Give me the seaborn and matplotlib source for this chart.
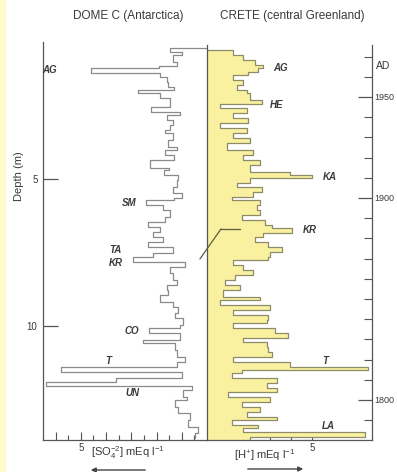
import numpy as np
import pandas as pd
import matplotlib
matplotlib.use("Agg")
import matplotlib.pyplot as plt
import seaborn as sns
from matplotlib.patches import ConnectionPatch, Rectangle

# ---------------- data ----------------
# DOME C (Antarctica): top depth (m) of each sample and sulphate value (mEq/l)
domec_depth = [0.544, 0.68, 0.78, 1.02, 1.156, 1.224, 1.395, 1.53, 1.70, 1.87,
               1.97, 2.075, 2.245, 2.55, 2.72, 2.82, 2.99, 3.16, 3.33, 3.435,
               3.67, 3.91, 4.01, 4.18, 4.35, 4.63, 4.69, 4.86, 5.03, 5.27,
               5.48, 5.65, 5.71, 5.88, 6.05, 6.29, 6.46, 6.63, 6.80, 6.97,
               7.14, 7.31, 7.52, 7.65, 7.82, 7.99, 8.20, 8.44, 8.61, 8.78,
               8.95, 9.18, 9.35, 9.56, 9.73, 9.97, 10.07, 10.24, 10.48, 10.58,
               10.82, 11.05, 11.22, 11.39, 11.56, 11.77, 11.90, 12.04, 12.18, 12.41,
               12.52, 12.76, 12.96, 13.20, 13.44, 13.64]
domec_so4 = [1.47, 1.0, 1.34, 1.2, 1.9, 4.6, 1.87, 1.6, 1.53, 1.3,
             2.72, 1.87, 1.47, 2.2, 1.07, 1.6, 1.34, 1.47, 1.67, 1.34,
             1.53, 1.2, 1.67, 1.3, 2.26, 1.5, 1.7, 1.14, 1.2, 1.34,
             1.0, 1.3, 2.42, 1.73, 1.47, 1.67, 2.33, 1.87, 2.13, 1.73,
             2.33, 1.34, 2.13, 2.92, 0.87, 1.47, 1.34, 1.2, 1.6, 1.53,
             1.87, 1.34, 1.14, 1.27, 0.94, 1.07, 2.29, 1.07, 2.53, 1.27,
             1.2, 0.87, 1.2, 5.8, 1.0, 3.6, 6.4, 0.61, 0.94, 0.81,
             1.27, 1.14, 0.67, 0.74, 0.34, 0.48]
domec_end = 13.81

# CRETE (central Greenland): top year of each sample and H+ value (mEq/l)
crete_year = [1973.3, 1970.8, 1968.3, 1965.8, 1964.4, 1962.4, 1960.9, 1958.4, 1955.9, 1953.5,
              1952.0, 1948.5, 1946.5, 1944.6, 1942.1, 1939.6, 1937.1, 1934.7, 1932.2, 1929.7,
              1927.2, 1923.8, 1921.3, 1918.8, 1916.3, 1912.9, 1911.4, 1909.9, 1907.4, 1905.4,
              1903.0, 1900.5, 1899.0, 1896.5, 1894.1, 1891.6, 1889.1, 1886.6, 1885.1, 1882.7,
              1880.7, 1878.2, 1875.7, 1873.3, 1870.8, 1869.3, 1866.8, 1864.4, 1861.9, 1859.4,
              1856.9, 1854.5, 1851.0, 1849.5, 1847.0, 1844.6, 1842.1, 1839.6, 1838.1, 1835.6,
              1833.2, 1830.7, 1828.7, 1826.2, 1823.8, 1821.3, 1818.8, 1816.3, 1814.9, 1813.4,
              1810.9, 1808.4, 1805.9, 1804.0, 1801.5, 1799.0, 1796.5, 1794.1, 1791.6, 1790.1,
              1787.6, 1786.1, 1784.2, 1781.7]
crete_h = [1.25, 1.73, 2.29, 2.68, 2.44, 1.97, 1.25, 1.73, 1.41, 1.89,
           2.05, 2.6, 0.62, 1.89, 1.25, 1.97, 0.62, 1.89, 1.25, 2.05,
           0.94, 2.2, 1.73, 2.52, 2.05, 3.95, 4.98, 2.05, 1.41, 2.6,
           2.2, 1.17, 2.52, 2.37, 2.52, 1.65, 2.76, 3.08, 4.03, 2.68,
           2.29, 2.92, 3.56, 3.0, 2.92, 1.25, 1.73, 2.2, 1.33, 0.86,
           1.57, 0.78, 2.52, 0.62, 3.0, 1.25, 2.92, 2.84, 1.25, 3.24,
           3.87, 1.73, 2.84, 2.92, 3.08, 1.25, 3.95, 7.68, 1.65, 1.17,
           3.32, 2.84, 3.32, 1.02, 3.0, 1.65, 2.52, 1.89, 3.32, 1.17,
           2.44, 1.73, 7.52, 2.05]
crete_end = 1780.2

# event labels
domec_events = ["AG", "SM", "TA", "KR", "CO", "T", "UN"]
domec_event_x = [6.23, 3.1, 3.61, 3.61, 2.98, 3.93, 2.94]
domec_event_depth = [1.29, 5.82, 7.40, 7.86, 10.17, 11.19, 12.28]
crete_events = ["AG", "HE", "KA", "KR", "T", "LA"]
crete_event_x = [3.52, 3.33, 5.86, 4.90, 5.62, 5.76]
crete_event_year = [1964.4, 1946.0, 1910.4, 1884.2, 1819.3, 1787.1]

year_labels = [1950, 1900, 1800]


def steps(tops, vals, end):
    bounds = list(tops) + [end]
    xs, ys = [0.0], [bounds[0]]
    for i, v in enumerate(vals):
        xs += [v, v]
        ys += [bounds[i], bounds[i + 1]]
    return pd.DataFrame({"x": xs, "y": ys})


# ---------------- style ----------------
sns.set_theme(style="white")
plt.rcParams["font.family"] = ["Liberation Sans", "DejaVu Sans"]
plt.rcParams["mathtext.fontset"] = "custom"
plt.rcParams["mathtext.rm"] = "Liberation Sans"
plt.rcParams["mathtext.it"] = "Liberation Sans:italic"

TXT = "#3a3a3a"
SPINE = "#555555"
W, H = 397, 472

fig = plt.figure(figsize=(W / 100, H / 100), dpi=100)
fig.patch.set_facecolor("white")
fig.patches.append(Rectangle((0, 0), 5 / W, 1, transform=fig.transFigure,
                             color="#fffbcc", zorder=0))

ax1 = fig.add_axes([43 / W, 32 / H, 164 / W, 398 / H])
ax2 = fig.add_axes([207 / W, 32 / H, 165 / W, 395 / H])
for ax in (ax1, ax2):
    ax.set_facecolor("none")

# DOME C
d1 = steps(domec_depth, domec_so4, domec_end)
sns.lineplot(data=d1, x="x", y="y", sort=False, estimator=None, ax=ax1,
             color="#8a8a8a", lw=0.9)
ax1.set_xlim(6.5, 0)
ax1.set_ylim(13.88, 0.34)

# CRETE
d2 = steps(crete_year, crete_h, crete_end)
ax2.fill_betweenx(d2["y"], 0, d2["x"], color="#f9f0a0", lw=0, zorder=1)
sns.lineplot(data=d2, x="x", y="y", sort=False, estimator=None, ax=ax2,
             color="#8e8c68", lw=0.9, zorder=2)
ax2.set_xlim(0, 7.86)
ax2.set_ylim(crete_end, 1975.7)

# spines
for ax in (ax1, ax2):
    for s in ax.spines.values():
        s.set_color(SPINE)
        s.set_linewidth(0.9)
    ax.set_xlabel("")
    ax.set_ylabel("")
ax1.spines["top"].set_visible(False)
ax1.spines["right"].set_visible(False)
ax2.spines["top"].set_visible(False)

# ticks DOME C
ax1.set_yticks([5, 10])
ax1.set_yticklabels(["5", "10"])
ax1.set_xticks([1, 2, 3, 4, 5, 6])
ax1.set_xticklabels(["", "", "", "", "5", ""])
ax1.set_xticks(np.arange(0.5, 6.5, 1.0), minor=True)
ax1.tick_params(axis="y", which="major", direction="in", length=11, width=0.9,
                color=SPINE, labelsize=7, labelcolor=TXT, pad=4, left=True)
ax1.tick_params(axis="x", which="major", direction="in", length=6, width=0.8,
                color=SPINE, labelsize=7, labelcolor=TXT, pad=2, bottom=True)
ax1.tick_params(axis="x", which="minor", direction="in", length=3.5, width=0.8,
                color=SPINE, bottom=True)

# ticks CRETE
ax2.set_xticks([1, 2, 3, 4, 5])
ax2.set_xticklabels(["", "", "", "", "5"])
ax2.tick_params(axis="x", which="major", direction="in", length=6, width=0.8,
                color=SPINE, labelsize=7, labelcolor=TXT, pad=2, bottom=True)
ax2.yaxis.tick_right()
ax2.set_yticks(year_labels)
ax2.set_yticklabels([str(y) for y in year_labels])
ax2.set_yticks(np.arange(1790, 1980, 10), minor=True)
ax2.tick_params(axis="y", which="major", direction="in", length=10, width=0.9,
                color=SPINE, labelsize=6.5, labelcolor=TXT, pad=2, right=True, left=False)
ax2.tick_params(axis="y", which="minor", direction="in", length=6, width=0.8,
                color=SPINE, right=True, left=False)

# event labels
for t, x, y in zip(domec_events, domec_event_x, domec_event_depth):
    ax1.text(x, y, t, ha="center", va="center", fontsize=7, fontweight="bold",
             fontstyle="italic", color=TXT)
for t, x, y in zip(crete_events, crete_event_x, crete_event_year):
    ax2.text(x, y, t, ha="center", va="center", fontsize=7, fontweight="bold",
             fontstyle="italic", color=TXT)

# KR connection
con = ConnectionPatch(xyA=(0.28, 7.72), coordsA=ax1.transData,
                      xyB=(0.67, 1884.7), coordsB=ax2.transData,
                      color="#5c5a3c", lw=0.9)
fig.add_artist(con)
ax2.plot([0.67, 1.57], [1884.7, 1884.7], color="#5c5a3c", lw=0.9, zorder=3)

# titles and labels
fig.text(128 / W, 1 - 16 / H, "DOME C (Antarctica)", ha="center", va="center",
         fontsize=8.5, color=TXT)
fig.text(292 / W, 1 - 16 / H, "CRETE (central Greenland)", ha="center", va="center",
         fontsize=8.5, color=TXT)
fig.text(19 / W, 1 - 176 / H, "Depth (m)", rotation=90, ha="center", va="center",
         fontsize=8, color=TXT)
fig.text(376 / W, 1 - 66 / H, "AD", ha="left", va="center", fontsize=7.5, color=TXT)
fig.text(128 / W, 1 - 453 / H, r"[SO$_4^{-2}$] mEq l$^{-1}$", ha="center", va="center",
         fontsize=8, color=TXT)
fig.text(265 / W, 1 - 455 / H, r"[H$^{+}$] mEq l$^{-1}$", ha="center", va="center",
         fontsize=8, color=TXT)

fig.add_artist(matplotlib.patches.FancyArrowPatch(
    (148 / W, 1 - 470 / H), (88 / W, 1 - 470 / H), transform=fig.transFigure,
    arrowstyle="-|>", mutation_scale=7, color="#444444", lw=1.0))
fig.add_artist(matplotlib.patches.FancyArrowPatch(
    (245 / W, 1 - 469 / H), (306 / W, 1 - 469 / H), transform=fig.transFigure,
    arrowstyle="-|>", mutation_scale=7, color="#444444", lw=1.0))

fig.savefig("out.png", dpi=100)
